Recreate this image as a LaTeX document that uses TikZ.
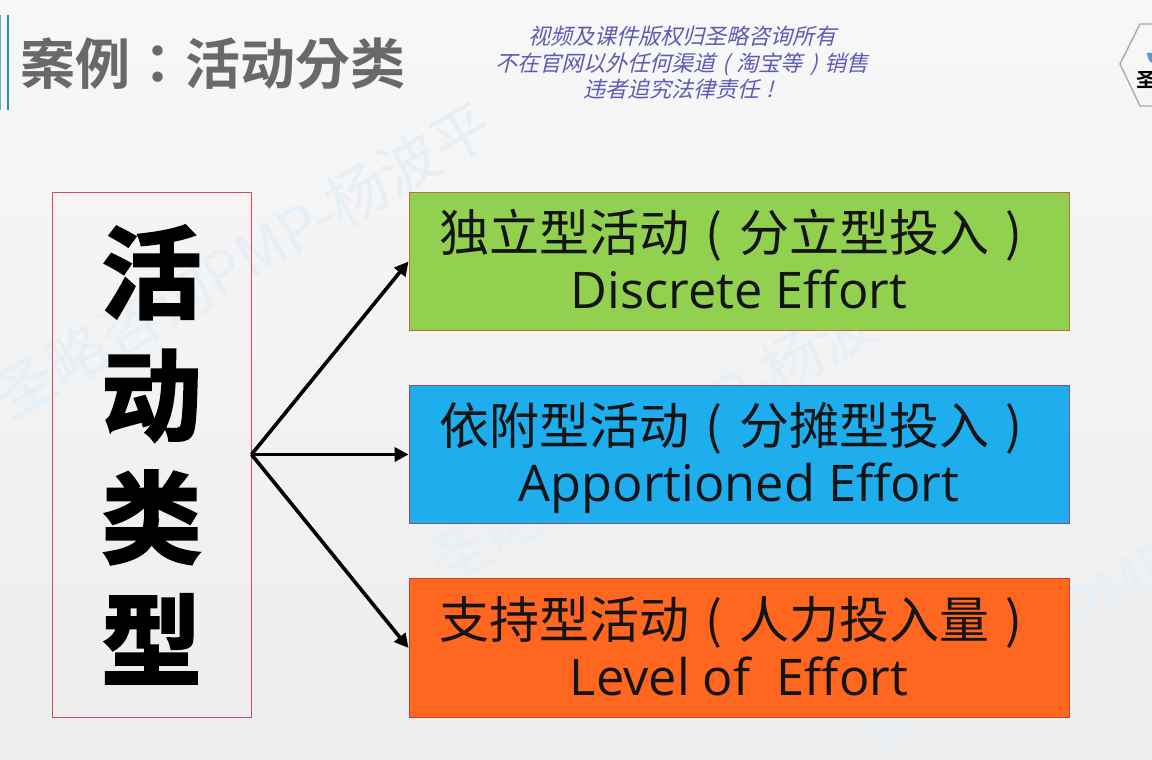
\documentclass[tikz,border=0pt]{standalone}
\usepackage{fontspec}
\usetikzlibrary{arrows.meta}
\setmainfont{Open Sans}
\newfontfamily\cjk{Noto Sans CJK SC}
\newfontfamily\cjkslant{Noto Sans CJK SC}[FakeSlant=0.25]
\newfontfamily\cjkheavy{Noto Sans CJK SC Bold}[FakeBold=2.5]
\newfontfamily\cjkbold{Noto Sans CJK SC Bold}
\newfontfamily\cjktc{Noto Sans CJK TC Bold}
\definecolor{wm}{HTML}{E6EEF6}
\definecolor{titlegray}{HTML}{696969}
\definecolor{note}{HTML}{5C5CB4}
\definecolor{barblue}{HTML}{1F8FB5}
\definecolor{boxgreen}{HTML}{92D050}
\definecolor{boxblue}{HTML}{1EAEEE}
\definecolor{boxorange}{HTML}{FF661F}
\definecolor{edgegreen}{HTML}{B8703A}
\definecolor{edgeblue}{HTML}{8A4A8A}
\definecolor{edgeorange}{HTML}{C8402A}
\definecolor{edgemain}{HTML}{D04A5E}
\newcommand{\cell}[1]{\makebox[1em][c]{#1}}
\newcommand{\zh}[1]{{\cjk #1}}
\tikzset{
  x=1pt,y=-1pt,
  mark text/.style={text=wm,font=\cjk\fontsize{60}{60}\selectfont,rotate=30,inner sep=0pt},
  catbox/.style={draw=#1,line width=1pt,minimum width=660pt,minimum height=138.5pt,inner sep=0pt,align=center,text depth=5pt,text=black!92,font=\fontsize{50.5}{57}\selectfont},
  arr/.style={draw=black,line width=3.6pt,-{Triangle[length=14pt,width=14pt]}},
}
\begin{document}
\begin{tikzpicture}
\useasboundingbox (0,0) rectangle (1152,760);
\shade[top color=white!97!black,bottom color=white!93!black] (0,0) rectangle (1152,760);
\begin{scope}
\clip (0,0) rectangle (1152,760);
\node[mark text] (wm1) at (243,260) {圣略咨询PMP-杨波平};
\node[mark text] (wm2) at (678,427) {圣略咨询PMP-杨波平};
\node[mark text] (wm3) at (1103,595) {圣略咨询PMP-杨波平};
\end{scope}
% title bars
\fill[barblue] (6.5,15) rectangle (9,110);
\fill[barblue!70!white] (0,15) rectangle (0.8,110);
\node[anchor=west,inner sep=0pt,text=titlegray,font=\cjktc\fontsize{55}{55}\selectfont] (title) at (20,64) {案例：活动分类};
\node[align=center,inner sep=0pt,text=note,font=\cjkslant\fontsize{22}{26.5}\selectfont] (notice) at (682,63) {视频及课件版权归圣略咨询所有\\不在官网以外任何渠道\cell{(}淘宝等\cell{)}销售\\违者追究法律责任\cell{!}};
% logo
\draw[gray!65,line width=1.4pt] (1152,24) -- (1140,24) -- (1120,64) -- (1140,106) -- (1152,106);
\fill[cyan!60!blue!70!white] (1147,53) .. controls (1148,60) and (1150,62) .. (1152,63) -- (1152,53) -- cycle;
\node[anchor=west,inner sep=0pt,text=black,font=\cjkbold\fontsize{20}{20}\selectfont] (logo) at (1136,80) {圣};
% main
\node[draw=edgemain,line width=1pt,minimum width=199pt,minimum height=525pt,inner sep=0pt,align=center,font=\cjkheavy\fontsize{100}{122.5}\selectfont] (main) at (151.5,454.5) {活\\动\\类\\型};
\node[catbox=edgegreen,fill=boxgreen] (a) at (739,261.5) {\fontsize{50}{57}\selectfont\zh{独立型活动\cell{(}分立型投入\cell{)}}\\\fontsize{50.5}{57}\selectfont Discrete Effort};
\node[catbox=edgeblue,fill=boxblue] (b) at (739,454.5) {\fontsize{50}{57}\selectfont\zh{依附型活动\cell{(}分摊型投入\cell{)}}\\\fontsize{50.5}{57}\selectfont Apportioned Effort};
\node[catbox=edgeorange,fill=boxorange] (c) at (739,648) {\fontsize{50}{57}\selectfont\zh{支持型活动\cell{(}人力投入量\cell{)}}\\\fontsize{50.5}{57}\selectfont Level of\ \ Effort};
\draw[arr] (main.east) -- (a.west);
\draw[arr] (main.east) -- (b.west);
\draw[arr] (main.east) -- (c.west);
\end{tikzpicture}
\end{document}
